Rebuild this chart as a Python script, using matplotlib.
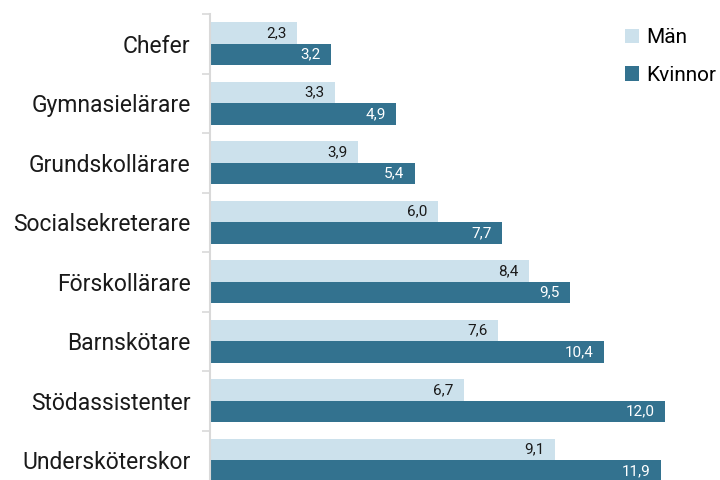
import matplotlib
matplotlib.use("Agg")
import matplotlib.pyplot as plt
import numpy as np

categories = ["Chefer", "Gymnasielärare", "Grundskollärare", "Socialsekreterare",
              "Förskollärare", "Barnskötare", "Stödassistenter", "Undersköterskor"]
man = [2.3, 3.3, 3.9, 6.0, 8.4, 7.6, 6.7, 9.1]
kvinnor = [3.2, 4.9, 5.4, 7.7, 9.5, 10.4, 12.0, 11.9]

plt.rcParams['font.family'] = ['Roboto', 'DejaVu Sans']

fig = plt.figure(figsize=(7.2, 4.8), dpi=100)
ax = fig.add_axes([210/720, 0, 510/720, 466/480])

c_man = "#cce1ec"
c_kv = "#33728f"
y = np.arange(len(categories))
h = 0.36
b1 = ax.barh(y - h/2, man, height=h, color=c_man, label="Män")
b2 = ax.barh(y + h/2, kvinnor, height=h, color=c_kv, label="Kvinnor")

for rect, v in zip(b1, man):
    ax.text(v - 0.27, rect.get_y() + rect.get_height()/2, f"{v:.1f}".replace(".", ","),
            ha="right", va="center", fontsize=11, color="#1a1a1a")
for rect, v in zip(b2, kvinnor):
    ax.text(v - 0.27, rect.get_y() + rect.get_height()/2, f"{v:.1f}".replace(".", ","),
            ha="right", va="center", fontsize=11, color="white")

ax.set_xlim(0, 13.45)
ax.set_ylim(7.33, -0.5)
ax.set_yticks(y)
ax.set_yticklabels(categories, fontsize=16.5, color="#1a1a1a")
ax.tick_params(axis="y", which="major", length=0, pad=14)
ax.set_yticks(np.arange(-0.5, 7.0, 1.0), minor=True)
ax.tick_params(axis="y", which="minor", length=6, color="#d9d9d9", width=1.2)
ax.set_xticks([])
for s in ["top", "right", "bottom"]:
    ax.spines[s].set_visible(False)
ax.spines["left"].set_color("#d9d9d9")
ax.spines["left"].set_linewidth(1.5)

leg = ax.legend(loc="upper right", bbox_to_anchor=(1.03, 1.01), frameon=False,
                fontsize=15, handlelength=0.7, handleheight=0.7, handletextpad=0.35,
                labelspacing=0.9)

fig.savefig("out.png", dpi=100)
